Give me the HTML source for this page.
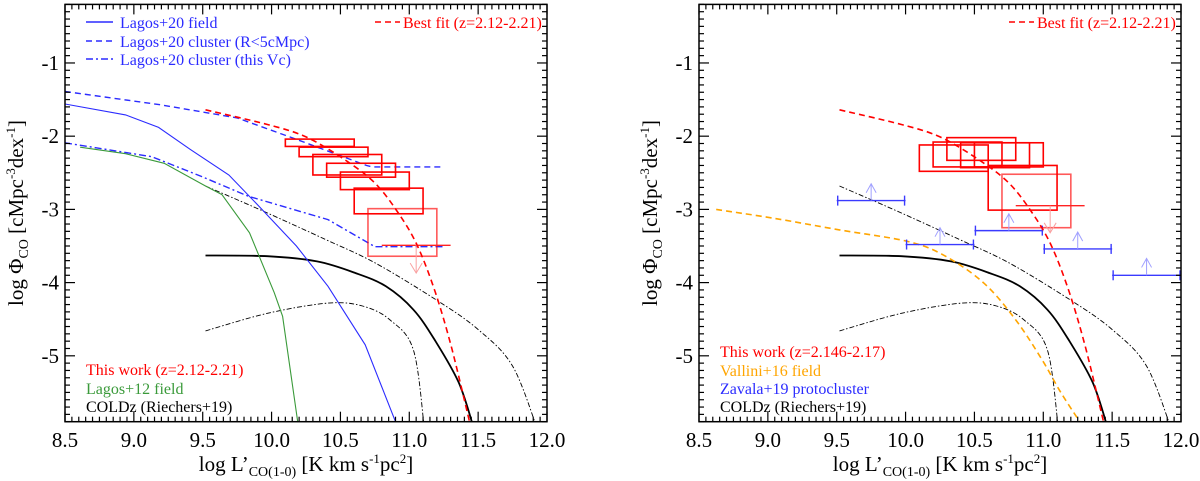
<!DOCTYPE html>
<html><head><meta charset="utf-8">
<style>
html,body{margin:0;padding:0;background:#fff;}
svg{display:block;}
svg text{font-family:"Liberation Serif","DejaVu Serif",serif;}
</style></head>
<body>
<svg id="chart" width="1200" height="481" viewBox="0 0 1200 481" xmlns="http://www.w3.org/2000/svg"></svg>
<script>
// ---- data ----
const xTicks = [8.5, 9.0, 9.5, 10.0, 10.5, 11.0, 11.5, 12.0];
const xTickLabels = ["8.5","9.0","9.5","10.0","10.5","11.0","11.5","12.0"];
const yTicks = [-1, -2, -3, -4, -5];
const yTickLabels = ["-1","-2","-3","-4","-5"];

const lagos20FieldX = [8.5, 8.94, 9.18, 9.41, 9.69, 9.91, 10.18, 10.41, 10.68, 10.90];
const lagos20FieldY = [-1.56, -1.71, -1.88, -2.18, -2.53, -2.96, -3.50, -4.05, -4.85, -5.90];
const lagos20ClusterX = [8.5, 9.19, 9.75, 10.19, 10.69, 10.73, 11.23];
const lagos20ClusterY = [-1.39, -1.57, -1.75, -2.05, -2.40, -2.42, -2.42];
const lagos20VcX = [8.5, 9.13, 9.49, 9.83, 10.41, 10.75, 11.26];
const lagos20VcY = [-2.09, -2.28, -2.55, -2.82, -3.14, -3.51, -3.51];
const lagos12X = [8.61, 8.94, 9.22, 9.52, 9.64, 9.84, 10.02, 10.08, 10.19];
const lagos12Y = [-2.15, -2.24, -2.37, -2.68, -2.80, -3.32, -4.14, -4.46, -5.90];
const coldzX = [9.52, 9.97, 10.33, 10.61, 10.83, 11.03, 11.19, 11.36, 11.47];
const coldzY = [-3.63, -3.64, -3.71, -3.87, -4.05, -4.37, -4.80, -5.37, -6.0];
const coldzUpX = [9.52, 9.97, 10.39, 10.75, 11.19, 11.50, 11.75, 11.93];
const coldzUpY = [-2.68, -3.05, -3.41, -3.73, -4.23, -4.64, -5.14, -6.0];
const coldzLoX = [9.52, 9.97, 10.41, 10.66, 10.86, 11.03, 11.11];
const coldzLoY = [-4.66, -4.42, -4.28, -4.32, -4.51, -4.92, -6.0];
const bestFitX = [9.52, 9.97, 10.25, 10.53, 10.75, 10.92, 11.06, 11.19, 11.31, 11.45];
const bestFitY = [-1.64, -1.84, -2.01, -2.32, -2.64, -3.05, -3.50, -4.14, -4.91, -6.0];
const vallX = [8.625, 9.04, 9.52, 10.02, 10.29, 10.57, 10.80, 10.99, 11.13, 11.30];
const vallY = [-3.0, -3.12, -3.28, -3.44, -3.64, -4.01, -4.51, -5.05, -5.51, -6.0];

const leftBoxX0 = [10.10, 10.20, 10.30, 10.40, 10.50, 10.60, 10.70];
const leftBoxYTop = [-2.04, -2.15, -2.25, -2.37, -2.49, -2.71, -2.99];
const leftBoxYBot = [-2.14, -2.28, -2.53, -2.56, -2.73, -3.06, -3.64];
const leftLimitX0 = 10.80, leftLimitY = -3.49, leftLimitTo = -3.87;
const rightBoxX0 = [10.10, 10.20, 10.30, 10.40, 10.50, 10.60, 10.70];
const rightBoxYTop = [-2.12, -2.08, -2.02, -2.09, -2.09, -2.40, -2.52];
const rightBoxYBot = [-2.48, -2.42, -2.33, -2.43, -2.42, -3.01, -3.25];
const rightLimitX0 = 10.80, rightLimitY = -2.95, rightLimitTo = -3.32;
const boxWidth = 0.5;

const zavX0 = [9.5, 10.0, 10.5, 11.0, 11.5];
const zavY = [-2.88, -3.48, -3.29, -3.54, -3.90];

// ---- drawing ----
const svg = document.getElementById('chart');
const NS = 'http://www.w3.org/2000/svg';
const XMIN = 8.5, XMAX = 12.0, YMIN = -5.9, YMAX = -0.2;
const PT = 4.4, PB = 421.7;
const FONT = '"Liberation Serif", "DejaVu Serif", serif';

function el(tag, attrs, parent){
  const e = document.createElementNS(NS, tag);
  for (const k in attrs) e.setAttribute(k, attrs[k]);
  if (tag === 'text') e.setAttribute('font-family', FONT);
  (parent || svg).appendChild(e);
  return e;
}

function makePanel(left, right, name){
  const g = el('g', {});
  
  
  const sx = v => left + (v - XMIN) / (XMAX - XMIN) * (right - left);
  const sy = v => PT + (YMAX - v) / (YMAX - YMIN) * (PB - PT);
  const clip = 'clip-' + name;
  const cp = el('clipPath', {id: clip}, g);
  el('rect', {x: left, y: PT, width: right - left, height: PB - PT}, cp);
  const plot = el('g', {'clip-path': 'url(#' + clip + ')'}, g);
  return {g, plot, sx, sy, left, right};
}

function line(p, xs, ys, color, width, dash, name, smooth){
  const P = xs.map((x, i) => [p.sx(x), p.sy(ys[i])]);
  let d = 'M' + P[0][0].toFixed(1) + ',' + P[0][1].toFixed(1);
  for (let i = 0; i < P.length - 1; i++){
    if (smooth){
      const p0 = P[i - 1] || P[i], p1 = P[i], p2 = P[i + 1], p3 = P[i + 2] || P[i + 1];
      const c1 = [p1[0] + (p2[0] - p0[0]) / 6, p1[1] + (p2[1] - p0[1]) / 6];
      const c2 = [p2[0] - (p3[0] - p1[0]) / 6, p2[1] - (p3[1] - p1[1]) / 6];
      d += ' C' + c1.map(v => v.toFixed(1)).join(',') + ' ' + c2.map(v => v.toFixed(1)).join(',') + ' ' + p2.map(v => v.toFixed(1)).join(',');
    } else {
      d += ' L' + P[i + 1][0].toFixed(1) + ',' + P[i + 1][1].toFixed(1);
    }
  }
  const e = el('path', {d: d, fill: 'none', stroke: color, 'stroke-width': width}, p.plot);
  if (dash) e.setAttribute('stroke-dasharray', dash);
  
  
}

function axes(p){
  const f = el('rect', {x: p.left, y: PT, width: p.right - p.left, height: PB - PT, fill: 'none', stroke: '#000', 'stroke-width': 1.5}, p.g);
  
  
  const tg = el('g', {stroke: '#000', 'stroke-width': 1.2}, p.g);
  for (let i = 0; i <= 70; i++){
    const v = XMIN + i * 0.05;
    const x = p.sx(v);
    const L = (i % 10 === 0) ? 10 : 5;
    el('line', {x1: x, y1: PB, x2: x, y2: PB - L}, tg);
    el('line', {x1: x, y1: PT, x2: x, y2: PT + L}, tg);
  }
  for (let i = 0; i <= 57; i++){
    const v = -5.9 + i * 0.1;
    const y = p.sy(v);
    const L = (Math.abs(v - Math.round(v)) < 1e-6) ? 10 : 5;
    el('line', {x1: p.left, y1: y, x2: p.left + L, y2: y}, tg);
    el('line', {x1: p.right, y1: y, x2: p.right - L, y2: y}, tg);
  }
  xTicks.forEach((v, i) => {
    const t = el('text', {x: p.sx(v), y: 447, 'font-size': 21, 'text-anchor': 'middle', fill: '#000'}, p.g);
    t.textContent = xTickLabels[i];
    
    
  });
  yTicks.forEach((v, i) => {
    const t = el('text', {x: p.left - 6, y: p.sy(v) + 7, 'font-size': 21, 'text-anchor': 'end', fill: '#000'}, p.g);
    t.textContent = yTickLabels[i];
    
    
  });
  const cx = (p.left + p.right) / 2;
  const xt = el('text', {x: cx, y: 471, 'font-size': 21, 'text-anchor': 'middle', fill: '#000'}, p.g);
  xt.innerHTML = 'log L’<tspan font-size="14" dy="5">CO(1-0)</tspan><tspan dy="-5"> [K km s</tspan><tspan font-size="13" dy="-8">-1</tspan><tspan dy="8">pc</tspan><tspan font-size="13" dy="-8">2</tspan><tspan dy="8">]</tspan>';
  
  
  const ytx = p.left - 42, yty = 213;
  const yt = el('text', {x: ytx, y: yty, 'font-size': 21, 'text-anchor': 'middle', fill: '#000', transform: 'rotate(-90 ' + ytx + ' ' + yty + ')'}, p.g);
  yt.innerHTML = 'log Φ<tspan font-size="14" dy="5">CO</tspan><tspan dy="-5"> [cMpc</tspan><tspan font-size="13" dy="-8">-3</tspan><tspan dy="8">dex</tspan><tspan font-size="13" dy="-8">-1</tspan><tspan dy="8">]</tspan>';
  
  
}

function boxes(p, x0s, tops, bots, name, lightIdx){
  x0s.forEach((x0, i) => {
    const r = el('rect', {x: p.sx(x0), y: p.sy(tops[i]), width: p.sx(x0 + boxWidth) - p.sx(x0), height: p.sy(bots[i]) - p.sy(tops[i]), fill: 'none', stroke: i === lightIdx ? 'rgba(255,0,0,0.65)' : '#f00', 'stroke-width': 1.6}, p.plot);
    
    
  });
}

function limit(p, x0, y, to, name){
  const g = el('g', {}, p.plot);
  
  
  el('line', {x1: p.sx(x0), y1: p.sy(y), x2: p.sx(x0 + boxWidth), y2: p.sy(y), stroke: '#f22', 'stroke-width': 1.4}, g);
  const ax = p.sx(x0 + boxWidth / 2);
  el('line', {x1: ax, y1: p.sy(y), x2: ax, y2: p.sy(to), stroke: '#f9a0a0', 'stroke-width': 1}, g);
  el('polyline', {points: (ax - 6) + ',' + (p.sy(to) - 10) + ' ' + ax + ',' + p.sy(to) + ' ' + (ax + 6) + ',' + (p.sy(to) - 10), fill: 'none', stroke: '#f9a0a0', 'stroke-width': 1}, g);
}

function legendText(p, x, y, txt, color, name){
  const t = el('text', {x: x, y: y, 'font-size': 16, fill: color}, p.g);
  t.textContent = txt;
  
  
}
function legendLine(p, x1, x2, y, color, dash){
  const l = el('line', {x1: x1, y1: y, x2: x2, y2: y, stroke: color, 'stroke-width': 1.5}, p.g);
  if (dash) l.setAttribute('stroke-dasharray', dash);
  
  
}

const DASHDOT = '5,2,1.5,2';
// ---- left panel ----
const L = makePanel(65, 547, 'left-panel');
line(L, coldzUpX, coldzUpY, '#000', 0.9, DASHDOT, 'coldz-upper-bound', true);
line(L, coldzLoX, coldzLoY, '#000', 0.9, DASHDOT, 'coldz-lower-bound', true);
line(L, coldzX, coldzY, '#000', 1.8, null, 'coldz-curve', true);
line(L, lagos12X, lagos12Y, '#3a9a3a', 1.1, null, 'lagos12-field-curve', false);
line(L, lagos20FieldX, lagos20FieldY, '#2b2bff', 1.1, null, 'lagos20-field-curve', false);
line(L, lagos20ClusterX, lagos20ClusterY, '#2b2bff', 1.4, '6,4', 'lagos20-cluster-curve', false);
line(L, lagos20VcX, lagos20VcY, '#2b2bff', 1.4, '7,3,2,3', 'lagos20-vc-curve', false);
boxes(L, leftBoxX0, leftBoxYTop, leftBoxYBot, 'this-work-box', 6);
limit(L, leftLimitX0, leftLimitY, leftLimitTo, 'upper-limit');
line(L, bestFitX, bestFitY, '#f00', 1.6, '6,4', 'best-fit-curve', true);
axes(L);
legendLine(L, 86, 113, 22, '#2b2bff', null);
legendText(L, 120, 28, 'Lagos+20 field', '#2b2bff', 'legend-lagos20-field');
legendLine(L, 86, 113, 41, '#2b2bff', '6,4');
legendText(L, 120, 47, 'Lagos+20 cluster (R<5cMpc)', '#2b2bff', 'legend-lagos20-cluster');
legendLine(L, 86, 113, 59, '#2b2bff', '7,3,2,3');
legendText(L, 120, 65, 'Lagos+20 cluster (this Vc)', '#2b2bff', 'legend-lagos20-vc');
legendLine(L, 375, 400, 22, '#f00', '6,4');
legendText(L, 403, 28, 'Best fit (z=2.12-2.21)', '#f00', 'legend-best-fit');
legendText(L, 86, 375, 'This work (z=2.12-2.21)', '#f00', 'legend-this-work');
legendText(L, 86, 394, 'Lagos+12 field', '#3a9a3a', 'legend-lagos12');
legendText(L, 86, 412, 'COLDz (Riechers+19)', '#000', 'legend-coldz');

// ---- right panel ----
const R = makePanel(699, 1181, 'right-panel');
line(R, coldzUpX, coldzUpY, '#000', 0.9, DASHDOT, 'coldz-upper-bound', true);
line(R, coldzLoX, coldzLoY, '#000', 0.9, DASHDOT, 'coldz-lower-bound', true);
line(R, coldzX, coldzY, '#000', 1.8, null, 'coldz-curve', true);
line(R, vallX, vallY, '#ffa500', 1.6, '6,4', 'vallini16-field-curve', true);
boxes(R, rightBoxX0, rightBoxYTop, rightBoxYBot, 'this-work-box', 6);
limit(R, rightLimitX0, rightLimitY, rightLimitTo, 'upper-limit');
zavX0.forEach((x0, i) => {
  const g = el('g', {}, R.plot);
  
  
  const x1 = R.sx(x0), x2 = R.sx(x0 + 0.5), y = R.sy(zavY[i]);
  el('line', {x1: x1, y1: y, x2: x2, y2: y, stroke: '#3a3aff', 'stroke-width': 1.4}, g);
  el('line', {x1: x1 + 1, y1: y - 5, x2: x1 + 1, y2: y + 5, stroke: '#3a3aff', 'stroke-width': 1.4}, g);
  el('line', {x1: x2 - 1, y1: y - 5, x2: x2 - 1, y2: y + 5, stroke: '#3a3aff', 'stroke-width': 1.4}, g);
  const ax = R.sx(x0 + 0.25), ay = R.sy(zavY[i] + 0.23);
  el('line', {x1: ax, y1: y, x2: ax, y2: ay, stroke: '#a0a0ff', 'stroke-width': 1}, g);
  el('polyline', {points: (ax - 5) + ',' + (ay + 9) + ' ' + ax + ',' + ay + ' ' + (ax + 5) + ',' + (ay + 9), fill: 'none', stroke: '#a0a0ff', 'stroke-width': 1}, g);
});
line(R, bestFitX, bestFitY, '#f00', 1.6, '6,4', 'best-fit-curve', true);
axes(R);
legendLine(R, 1009, 1034, 22, '#f00', '6,4');
legendText(R, 1037, 28, 'Best fit (z=2.12-2.21)', '#f00', 'legend-best-fit');
legendText(R, 720, 357, 'This work (z=2.146-2.17)', '#f00', 'legend-this-work');
legendText(R, 720, 376, 'Vallini+16 field', '#ffa500', 'legend-vallini16');
legendText(R, 720, 394, 'Zavala+19 protocluster', '#2b2bff', 'legend-zavala19');
legendText(R, 720, 412, 'COLDz (Riechers+19)', '#000', 'legend-coldz');
</script>
</body></html>
